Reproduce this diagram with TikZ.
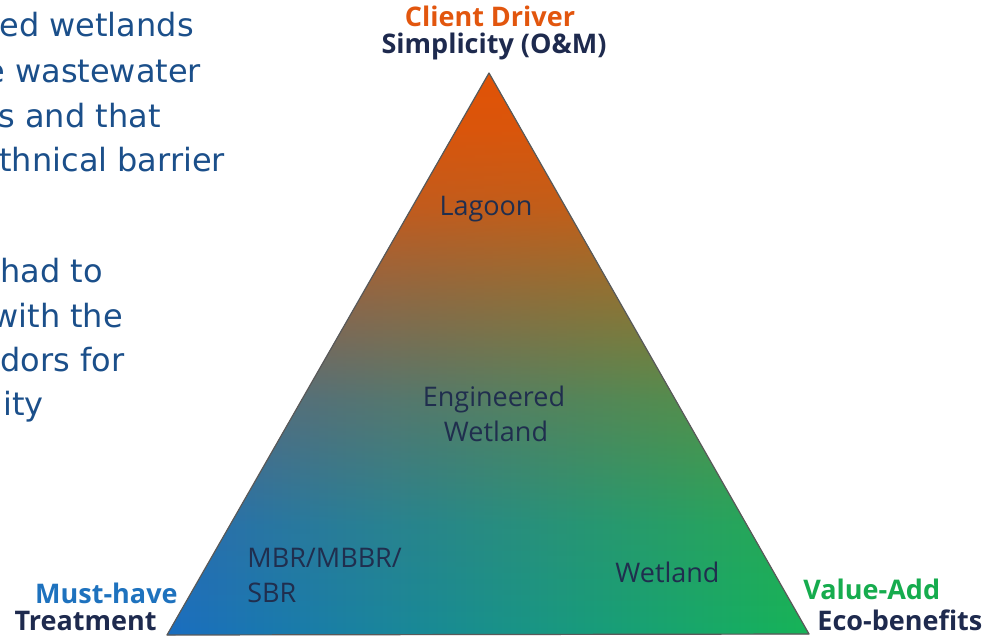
\documentclass[tikz,border=0pt]{standalone}
\usepackage{fontspec}
\setmainfont{Open Sans}
\newfontfamily\bodyfont{DejaVu Sans}
\usetikzlibrary{fadings}

\definecolor{drvorange}{RGB}{226,86,14}
\definecolor{drvnavy}{RGB}{30,42,78}
\definecolor{drvblue}{RGB}{30,114,190}
\definecolor{drvgreen}{RGB}{22,172,78}
\definecolor{techtext}{RGB}{32,46,78}
\definecolor{bodyblue}{RGB}{27,79,138}
\definecolor{topfill}{RGB}{226,83,6}
\definecolor{leftfill}{RGB}{26,110,192}
\definecolor{rightfill}{RGB}{22,180,88}

% orange wash, strong at the top and gone by the base
\pgfdeclareverticalshading{washshade}{100bp}{color(0bp)=(black); color(25bp)=(black);
  color(35bp)=(white!8!black); color(46bp)=(white!30!black); color(55bp)=(white!58!black);
  color(63bp)=(white!84!black); color(70bp)=(white!96!black); color(75bp)=(white); color(100bp)=(white)}
\pgfdeclarefading{fade down}{\pgfuseshading{washshade}}

\tikzset{
  body/.style={font=\bodyfont\fontsize{16}{20}\selectfont, text=bodyblue, anchor=base west, inner sep=0pt},
  driver/.style={font=\bfseries\fontsize{13.5}{16}\selectfont, inner sep=0pt},
  tech/.style={font=\fontsize{13.5}{17.5}\selectfont, text=techtext, inner sep=0pt},
}

\begin{document}
\begin{tikzpicture}[x=0.5pt,y=-0.5pt]
  \useasboundingbox (0,0) rectangle (1005,643);
  \clip (0,0) rectangle (1005,643);

  % text running in from the left
  \node[body] (l1) at (-1,36) {ed wetlands};
  \node[body] (l2) at (-15,82) {e wastewater};
  \node[body] (l3) at (-2,127) {s and that};
  \node[body] (l4) at (-1,171) {thnical barrier};
  \node[body] (l5) at (0,282) {had to};
  \node[body] (l6) at (-8,327) {with the};
  \node[body] (l7) at (0,371) {dors for};
  \node[body] (l8) at (3,415) {ity};

  % the triangle
  \coordinate (apex) at (489,73);
  \coordinate (lcorner) at (167,635);
  \coordinate (rcorner) at (809,634);
  \fill [left color=leftfill, right color=rightfill] (apex) -- (lcorner) -- (rcorner) -- cycle;
  \fill [topfill, path fading=fade down] (apex) -- (lcorner) -- (rcorner) -- cycle;
  \draw [black!65, line width=0.6pt, line join=round] (apex) -- (lcorner) -- (rcorner) -- cycle;

  % corner drivers
  \node[driver, text=drvorange, anchor=base] (client) at (490,26) {Client Driver};
  \node[driver, text=drvnavy, anchor=base] (simple) at (494,53) {Simplicity (O\&M)};
  \node[driver, text=drvblue, anchor=base east] (must) at (178,603) {Must-have};
  \node[driver, text=drvnavy, anchor=base east] (treat) at (157,630) {Treatment};
  \node[driver, text=drvgreen, anchor=base west] (value) at (803,599) {Value-Add};
  \node[driver, text=drvnavy, anchor=base west] (eco) at (817,630) {Eco-benefits};

  % treatment options inside
  \node[tech, anchor=base] (lagoon) at (486,215) {Lagoon};
  \node[tech, anchor=base] (eng) at (494,406) {Engineered};
  \node[tech, anchor=base] (engwet) at (496,441) {Wetland};
  \node[tech, anchor=base west] (mbr) at (247,567) {MBR/MBBR/};
  \node[tech, anchor=base west] (sbr) at (247,602) {SBR};
  \node[tech, anchor=base west] (wetland) at (615,582) {Wetland};
\end{tikzpicture}
\end{document}
